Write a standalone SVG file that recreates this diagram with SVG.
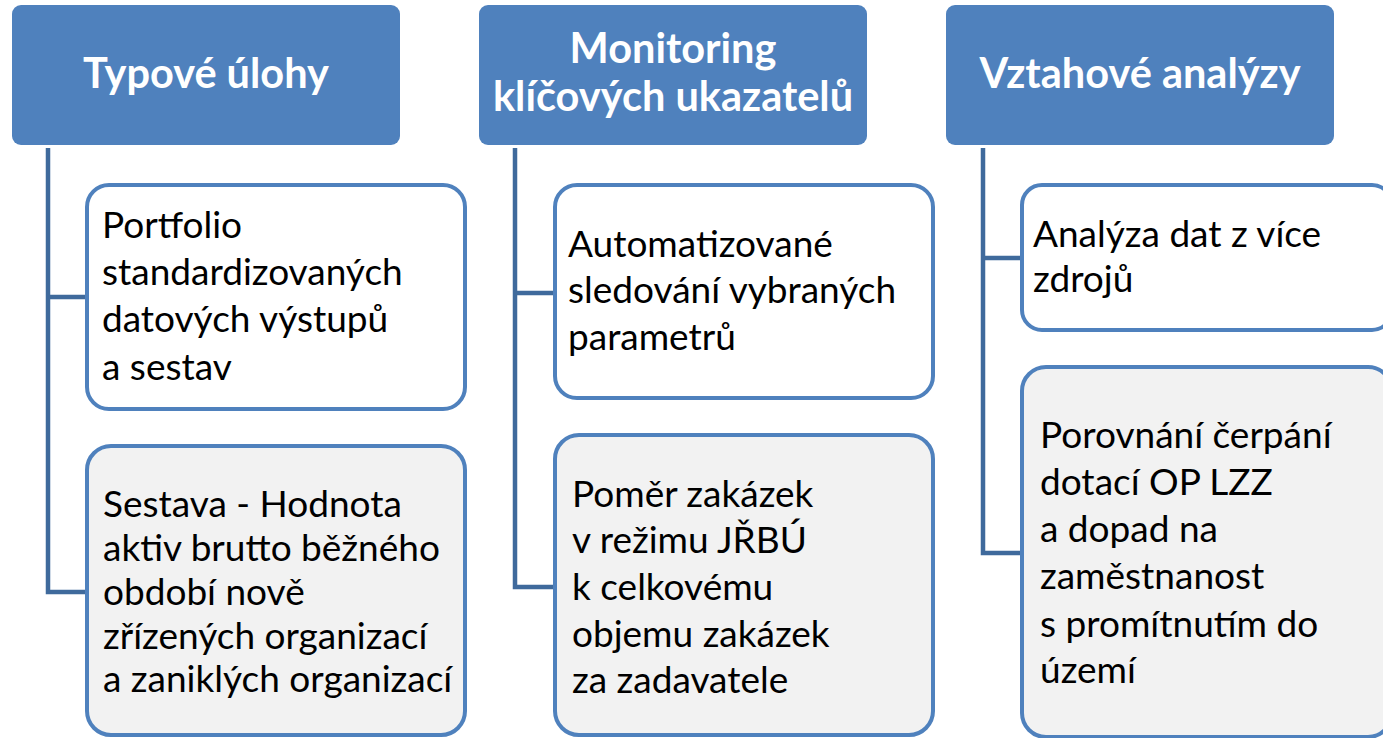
<svg xmlns="http://www.w3.org/2000/svg" width="1383" height="738" viewBox="0 0 1383 738">
<style>
.hdr{fill:#4F81BD;}
.ht{font-family:Lato,"Open Sans",sans-serif;font-weight:bold;font-size:41.5px;fill:#FFFFFF;text-anchor:middle;}
.box{stroke:#4F81BD;stroke-width:4;}
.w{fill:#FFFFFF;}
.g{fill:#F2F2F2;}
.bt{font-family:Lato,"Open Sans",sans-serif;font-size:37px;fill:#000000;}
.con{fill:none;stroke:#3F6A9C;stroke-width:4.5;}
</style>
<rect width="1383" height="738" fill="#FFFFFF"/>
<g id="connectors">
<path class="con" d="M48 148 V592 H87 M48 297 H87"/>
<path class="con" d="M515 148 V587 H555 M515 293 H555"/>
<path class="con" d="M983 148 V553 H1022 M983 258 H1022"/>
</g>
<g id="h1">
<rect class="hdr" x="12" y="5" width="388" height="140" rx="9"/>
<text class="ht" x="206" y="88">Typové úlohy</text>
</g>
<g id="h2">
<rect class="hdr" x="479" y="5" width="388" height="140" rx="9"/>
<text class="ht" x="673" y="63">Monitoring</text>
<text class="ht" x="673" y="111">klíčových ukazatelů</text>
</g>
<g id="h3">
<rect class="hdr" x="946" y="5" width="388" height="140" rx="9"/>
<text class="ht" x="1140" y="88">Vztahové analýzy</text>
</g>
<g id="n1a">
<rect class="box w" x="87" y="185" width="378" height="224" rx="22"/>
<text class="bt" x="102" y="238">Portfolio</text>
<text class="bt" x="102" y="285">standardizovaných</text>
<text class="bt" x="102" y="332">datových výstupů</text>
<text class="bt" x="102" y="380">a sestav</text>
</g>
<g id="n1b">
<rect class="box g" x="87" y="446" width="378" height="289" rx="24"/>
<text class="bt" x="103" y="517">Sestava - Hodnota</text>
<text class="bt" x="103" y="561">aktiv brutto běžného</text>
<text class="bt" x="103" y="605">období nově</text>
<text class="bt" x="103" y="649">zřízených organizací</text>
<text class="bt" x="103" y="692">a zaniklých organizací</text>
</g>
<g id="n2a">
<rect class="box w" x="555" y="185" width="378" height="213" rx="22"/>
<text class="bt" x="568" y="257">Automatizované</text>
<text class="bt" x="568" y="303">sledování vybraných</text>
<text class="bt" x="568" y="350">parametrů</text>
</g>
<g id="n2b">
<rect class="box g" x="555" y="435" width="378" height="300" rx="24"/>
<text class="bt" x="572" y="507">Poměr zakázek</text>
<text class="bt" x="572" y="553">v režimu JŘBÚ</text>
<text class="bt" x="572" y="600">k celkovému</text>
<text class="bt" x="572" y="647">objemu zakázek</text>
<text class="bt" x="572" y="693">za zadavatele</text>
</g>
<g id="n3a">
<rect class="box w" x="1022" y="185" width="370" height="145" rx="20"/>
<text class="bt" x="1033" y="247">Analýza dat z více</text>
<text class="bt" x="1033" y="292">zdrojů</text>
</g>
<g id="n3b">
<rect class="box g" x="1022" y="367" width="370" height="370" rx="24"/>
<text class="bt" x="1040" y="448">Porovnání čerpání</text>
<text class="bt" x="1040" y="495">dotací OP LZZ</text>
<text class="bt" x="1040" y="542">a dopad na</text>
<text class="bt" x="1040" y="589">zaměstnanost</text>
<text class="bt" x="1040" y="637">s promítnutím do</text>
<text class="bt" x="1040" y="683">území</text>
</g>
</svg>
